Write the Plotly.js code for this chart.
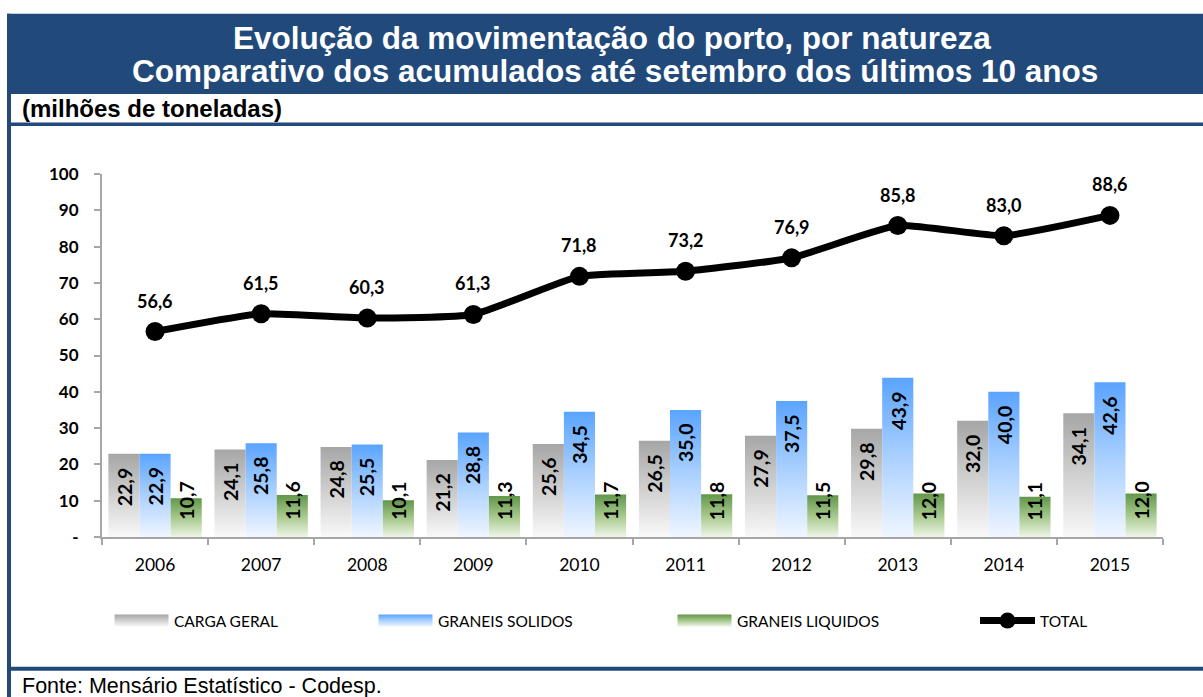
<!DOCTYPE html>
<html><head><meta charset="utf-8">
<script src="https://cdn.plot.ly/plotly-3.0.1.min.js"></script>
<style>html,body{margin:0;padding:0;background:#fff}#chart{width:1203px;height:697px}</style>
</head><body><div id="chart"></div>
<script>
// ---- data ----
const years = ['2006','2007','2008','2009','2010','2011','2012','2013','2014','2015'];
const cargaGeral = [22.9,24.1,24.8,21.2,25.6,26.5,27.9,29.8,32.0,34.1];
const graneisSolidos = [22.9,25.8,25.5,28.8,34.5,35.0,37.5,43.9,40.0,42.6];
const graneisLiquidos = [10.7,11.6,10.1,11.3,11.7,11.8,11.5,12.0,11.1,12.0];
const total = [56.6,61.5,60.3,61.3,71.8,73.2,76.9,85.8,83.0,88.6];
const seriesNames = ['CARGA GERAL','GRANEIS SOLIDOS','GRANEIS LIQUIDOS','TOTAL'];
const yTickVals = [0,10,20,30,40,50,60,70,80,90,100];
const yTickText = ['-','10','20','30','40','50','60','70','80','90','100'];
const titleLine1 = 'Evolução da movimentação do porto, por natureza';
const titleLine2 = 'Comparativo dos acumulados até setembro dos últimos 10 anos';
const unitText = '(milhões de toneladas)';
const sourceText = 'Fonte: Mensário Estatístico - Codesp.';

// ---- geometry ----
const W = 1203, H = 697, L = 102, R = 1163, T = 173.5, B = 537;
const px2x = p => (p - L) / (R - L);
const px2y = p => (B - p) / (B - T);
const fmt = v => v.toFixed(1).replace('.', ',');
const BLUE = '#214A7B';
const BARGAP = 0.12;
const barW = (1 - BARGAP) / 3;

function barTrace(vals, name, color, legend) {
  return {
    type: 'bar', x: years, y: vals, name: name, legend: legend,
    marker: {color: color, line: {width: 0}}, hoverinfo: 'skip'
  };
}

const traces = [
  barTrace(cargaGeral, seriesNames[0], '#CFCFCF', 'legend'),
  barTrace(graneisSolidos, seriesNames[1], '#A9CFFF', 'legend2'),
  barTrace(graneisLiquidos, seriesNames[2], '#A9C98F', 'legend3'),
  {
    type: 'scatter', mode: 'lines+markers', x: years, y: total, name: seriesNames[3],
    legend: 'legend4',
    line: {color: '#000', width: 7, shape: 'spline', smoothing: 0.45},
    marker: {color: '#000', size: 19}, cliponaxis: false, hoverinfo: 'skip'
  }
];

// total labels (x = category index on the category axis)
const annotations = total.map((v, i) => ({
  x: i, y: v, xref: 'x', yref: 'y', text: fmt(v), showarrow: false,
  yshift: 31, font: {family: 'Lato', size: 18, weight: 'bold', color: '#000'}
}));
// bar value labels, rotated, inside the bars
const barLabelFont = {family: 'Lato', size: 19.5, weight: 'bold', color: '#000'};
[cargaGeral, graneisSolidos].forEach((vals, k) => {
  vals.forEach((v, i) => annotations.push({
    x: i + (k - 1) * barW, y: v, xref: 'x', yref: 'y', text: fmt(v), showarrow: false,
    textangle: -90, xanchor: 'center', yanchor: 'top', yshift: -11, font: barLabelFont
  }));
});
graneisLiquidos.forEach((v, i) => annotations.push({
  x: i + barW, y: 0, xref: 'x', yref: 'y', text: fmt(v), showarrow: false,
  textangle: -90, xanchor: 'center', yanchor: 'bottom', yshift: 15, font: barLabelFont
}));

function textAt(text, xpx, ypx, anchor, font) {
  return {xref: 'paper', yref: 'paper', x: px2x(xpx), y: px2y(ypx), xanchor: anchor, yanchor: 'middle',
    text: text, showarrow: false, font: font};
}
const titleFont = {family: 'Liberation Sans, Arial', size: 31.5, weight: 'bold', color: '#fff'};
annotations.push(textAt(titleLine1, 612, 37, 'center', titleFont));
annotations.push(textAt(titleLine2, 615, 70, 'center', titleFont));
annotations.push(textAt(unitText, 20, 108, 'left',
  {family: 'Liberation Sans, Arial', size: 24, weight: 'bold', color: '#000'}));
annotations.push(textAt(sourceText, 20, 686, 'left',
  {family: 'Liberation Sans, Arial', size: 21.5, color: '#000'}));

function rect(x0, x1, y0, y1) {
  return {type: 'rect', xref: 'paper', yref: 'paper', x0: px2x(x0), x1: px2x(x1),
    y0: px2y(y1), y1: px2y(y0), fillcolor: BLUE, line: {width: 0}, layer: 'below'};
}
const shapes = [
  rect(7, 1215, 13, 93.5),
  rect(7, 11, 13, 710),
  rect(7, 1215, 122, 125.5),
  rect(7, 1215, 667, 671)
];

function legendAt(px) {
  return {orientation: 'h', xref: 'container', yref: 'container', x: px / W, y: 1 - 621 / H,
    xanchor: 'left', yanchor: 'middle', bgcolor: 'rgba(0,0,0,0)', borderwidth: 0,
    itemwidth: 55, font: {family: 'Lato', size: 15.5, color: '#000'}};
}

const layout = {
  width: W, height: H,
  margin: {l: L, r: W - R, t: T, b: H - B, pad: 0},
  paper_bgcolor: '#fff', plot_bgcolor: 'rgba(0,0,0,0)',
  barmode: 'group', bargap: BARGAP, bargroupgap: 0,
  showlegend: true,
  xaxis: {type: 'category', range: [-0.5, years.length - 0.5], autorange: false,
    tickson: 'boundaries', ticks: 'outside', ticklen: 6, tickwidth: 2,
    tickcolor: '#A6A6A6', showline: true, linecolor: '#A6A6A6', linewidth: 2,
    showgrid: false, zeroline: false, ticklabelstandoff: 11, tickangle: 0,
    tickfont: {family: 'Lato', size: 17.5, color: '#000'}},
  yaxis: {range: [0, 100], autorange: false, tickvals: yTickVals, ticktext: yTickText, ticks: 'outside', ticklen: 6,
    tickwidth: 2, tickcolor: '#A6A6A6', showline: true, linecolor: '#A6A6A6', linewidth: 2,
    showgrid: false, zeroline: false, ticklabelstandoff: 12,
    tickfont: {family: 'Lato', size: 17, weight: 'bold', color: '#000'}},
  legend: legendAt(109), legend2: legendAt(373), legend3: legendAt(672), legend4: legendAt(975),
  annotations: annotations, shapes: shapes
};

Plotly.newPlot('chart', traces, layout, {displayModeBar: false, staticPlot: true}).then(gd => {
  const ns = 'http://www.w3.org/2000/svg';
  const svg = gd.querySelector('svg.main-svg');
  let defs = svg.querySelector('defs');
  if (!defs) { defs = document.createElementNS(ns, 'defs'); svg.insertBefore(defs, svg.firstChild); }
  const grads = [
    ['#A6A6A6', '#D0D0D0', '#F9F9F9'],
    ['#5AA4FF', '#AAD0FF', '#F0F6FF'],
    ['#62964A', '#A6C88C', '#EEF5E6']
  ];
  grads.forEach((g, i) => {
    const lg = document.createElementNS(ns, 'linearGradient');
    lg.setAttribute('id', 'bg' + i);
    lg.setAttribute('x1', '0'); lg.setAttribute('y1', '0'); lg.setAttribute('x2', '0'); lg.setAttribute('y2', '1');
    [[0, g[0]], [0.5, g[1]], [1, g[2]]].forEach(s => {
      const st = document.createElementNS(ns, 'stop');
      st.setAttribute('offset', s[0]); st.setAttribute('stop-color', s[1]);
      lg.appendChild(st);
    });
    defs.appendChild(lg);
  });
  gd.querySelectorAll('.barlayer .trace').forEach((tr, i) => {
    tr.querySelectorAll('.point path').forEach(p => { p.style.fill = 'url(#bg' + i + ')'; });
  });
  gd.querySelectorAll('g.traces').forEach(item => {
    const d = item.__data__ && item.__data__[0] && item.__data__[0].trace;
    if (!d || d.type !== 'bar') return;
    const idx = d.index;
    item.querySelectorAll('.legendpoints path').forEach(p => {
      p.setAttribute('d', 'M-27,6H27V-6H-27Z');
      p.style.fill = 'url(#bg' + idx + ')';
      p.style.stroke = 'none';
    });
  });
});
</script>
</body></html>
